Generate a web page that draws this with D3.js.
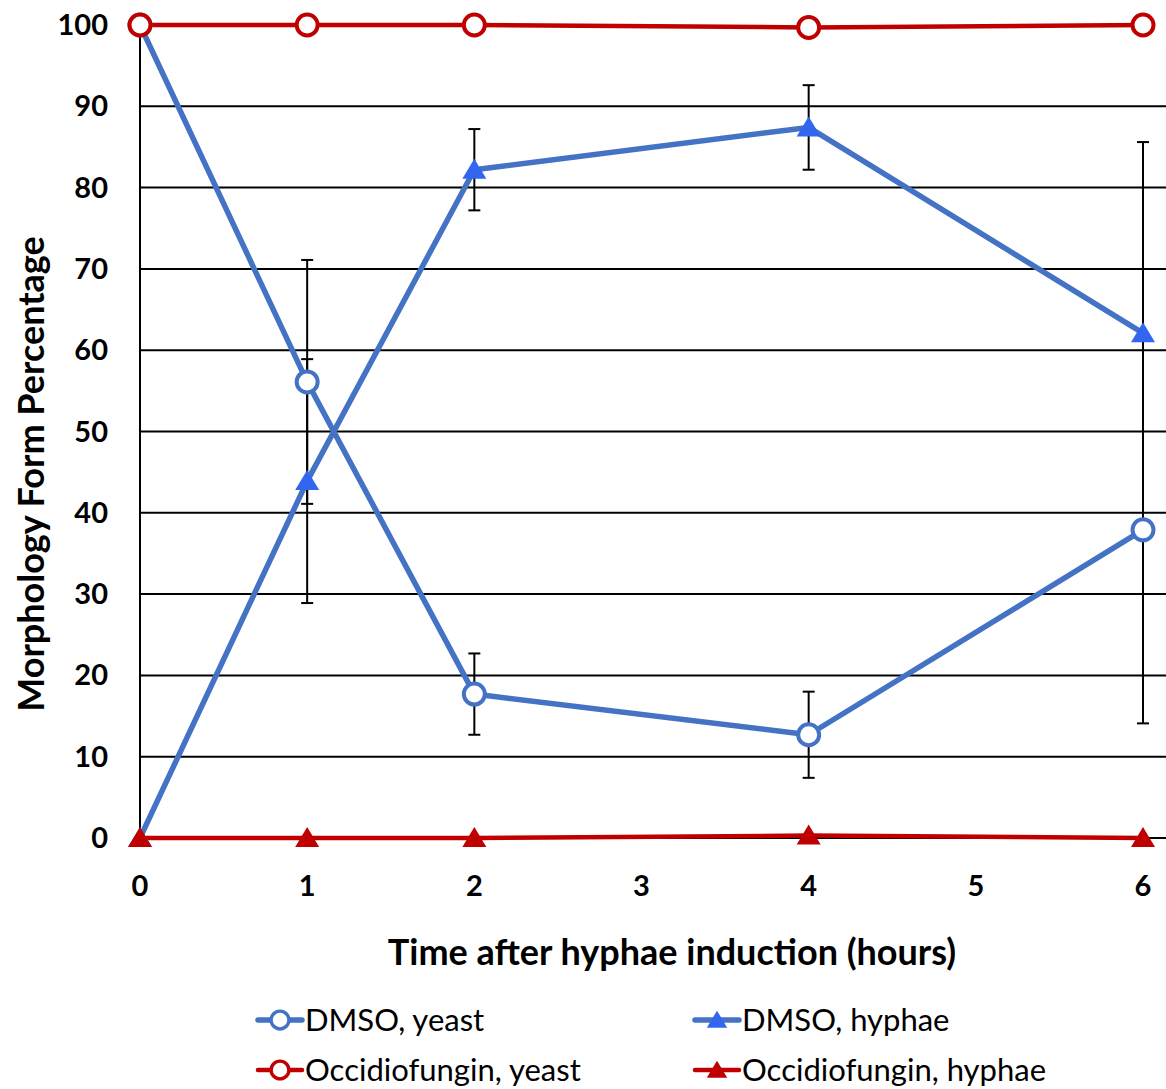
<!DOCTYPE html>
<html lang="en">
<head>
    <meta charset="UTF-8">
    <title>Morphology Form Percentage</title>
    <script src="https://d3js.org/d3.v7.min.js"></script>
    <style>
        body { margin: 0; padding: 0; background: #fff; }
        svg text { font-family: Lato, "Open Sans", sans-serif; fill: #000; }
    </style>
</head>
<body>
    <script>
        // data
        const hours = [0, 1, 2, 4, 6];
        const xTicks = [0, 1, 2, 3, 4, 5, 6];
        const yTicks = [0, 10, 20, 30, 40, 50, 60, 70, 80, 90, 100];

        const dmsoYeast = [100, 56.1, 17.7, 12.7, 37.9];
        const dmsoYeastErr = [0, 15.0, 5.0, 5.3, 23.8];
        const dmsoHyphae = [0, 43.9, 82.2, 87.4, 62.1];
        const dmsoHyphaeErr = [0, 15.0, 5.0, 5.2, 23.5];
        const occYeast = [100, 100, 100, 99.7, 100];
        const occHyphae = [0, 0, 0, 0.3, 0];

        const series = [
            { name: "DMSO, yeast", values: dmsoYeast, err: dmsoYeastErr, line: "#4472C4", fill: "#fff", marker: "circle", width: 5.5 },
            { name: "DMSO, hyphae", values: dmsoHyphae, err: dmsoHyphaeErr, line: "#4472C4", fill: "#3366EE", marker: "triangle", width: 5.5 },
            { name: "Occidiofungin, yeast", values: occYeast, err: null, line: "#C00000", fill: "#fff", marker: "circle", width: 4.5 },
            { name: "Occidiofungin, hyphae", values: occHyphae, err: null, line: "#C00000", fill: "#C00000", marker: "triangle", width: 4.5 }
        ];

        const svg = d3.select("body").append("svg")
            .attr("width", 1166)
            .attr("height", 1089);

        const x = d3.scaleLinear().domain([0, 6]).range([140, 1143]);
        const y = d3.scaleLinear().domain([0, 100]).range([838, 25]);

        // gridlines
        svg.append("g").selectAll("line")
            .data(yTicks.filter(d => d < 100))
            .enter().append("line")
            .attr("x1", 140).attr("x2", 1166)
            .attr("y1", d => y(d)).attr("y2", d => y(d))
            .attr("stroke", "#000").attr("stroke-width", 2);

        // y axis line
        svg.append("line")
            .attr("x1", 140).attr("x2", 140)
            .attr("y1", y(100)).attr("y2", y(0))
            .attr("stroke", "#000").attr("stroke-width", 2);

        // tick labels
        svg.append("g").selectAll("text")
            .data(yTicks)
            .enter().append("text")
            .attr("x", 108)
            .attr("y", d => y(d) + 10)
            .attr("text-anchor", "end")
            .attr("font-size", 29)
            .attr("font-weight", "bold")
            .text(d => d);

        svg.append("g").selectAll("text")
            .data(xTicks)
            .enter().append("text")
            .attr("x", d => x(d))
            .attr("y", 896)
            .attr("text-anchor", "middle")
            .attr("font-size", 29)
            .attr("font-weight", "bold")
            .text(d => d);

        // axis titles
        svg.append("text")
            .attr("x", 672).attr("y", 965)
            .attr("text-anchor", "middle")
            .attr("font-size", 36)
            .attr("font-weight", "bold")
            .text("Time after hyphae induction (hours)");

        svg.append("text")
            .attr("transform", "translate(44,474) rotate(-90)")
            .attr("text-anchor", "middle")
            .attr("font-size", 36)
            .attr("font-weight", "bold")
            .text("Morphology Form Percentage");

        // error bars
        series.filter(s => s.err).forEach(s => {
            const g = svg.append("g").attr("stroke", "#000").attr("stroke-width", 2);
            hours.forEach((h, i) => {
                const e = s.err[i];
                if (!e) return;
                const cx = x(h);
                const top = y(s.values[i] + e), bot = y(s.values[i] - e);
                g.append("line").attr("x1", cx).attr("x2", cx).attr("y1", top).attr("y2", bot);
                g.append("line").attr("x1", cx - 6).attr("x2", cx + 6).attr("y1", top).attr("y2", top);
                g.append("line").attr("x1", cx - 6).attr("x2", cx + 6).attr("y1", bot).attr("y2", bot);
            });
        });

        const lineGen = d3.line()
            .x((d, i) => x(hours[i]))
            .y(d => y(d));

        function drawMarker(g, s, cx, cy, scale) {
            if (s.marker === "circle") {
                g.append("circle")
                    .attr("cx", cx).attr("cy", cy).attr("r", 10.5 * scale)
                    .attr("fill", s.fill)
                    .attr("stroke", s.line)
                    .attr("stroke-width", 4 * scale);
            } else {
                const w = 12 * scale, h = 20 * scale;
                g.append("path")
                    .attr("d", `M${cx},${cy - h * 0.55} L${cx + w},${cy + h * 0.45} L${cx - w},${cy + h * 0.45} Z`)
                    .attr("fill", s.fill);
            }
        }

        // lines and markers
        series.forEach(s => {
            svg.append("path")
                .datum(s.values)
                .attr("d", lineGen)
                .attr("fill", "none")
                .attr("stroke", s.line)
                .attr("stroke-width", s.width)
                .attr("stroke-linejoin", "round");
        });
        series.forEach(s => {
            const g = svg.append("g");
            s.values.forEach((v, i) => drawMarker(g, s, x(hours[i]), y(v), 1));
        });

        // legend
        const legendPos = [
            { x: 258, y: 1020 }, { x: 695, y: 1020 },
            { x: 258, y: 1070 }, { x: 695, y: 1070 }
        ];
        series.forEach((s, i) => {
            const p = legendPos[i];
            const g = svg.append("g");
            g.append("line")
                .attr("x1", p.x).attr("x2", p.x + 44)
                .attr("y1", p.y).attr("y2", p.y)
                .attr("stroke", s.line).attr("stroke-width", s.width)
                .attr("stroke-linecap", "round");
            drawMarker(g, s, p.x + 22, p.y, 0.85);
            g.append("text")
                .attr("x", p.x + 47).attr("y", p.y + 11)
                .attr("font-size", 31)
                .text(s.name);
        });
    </script>
</body>
</html>
